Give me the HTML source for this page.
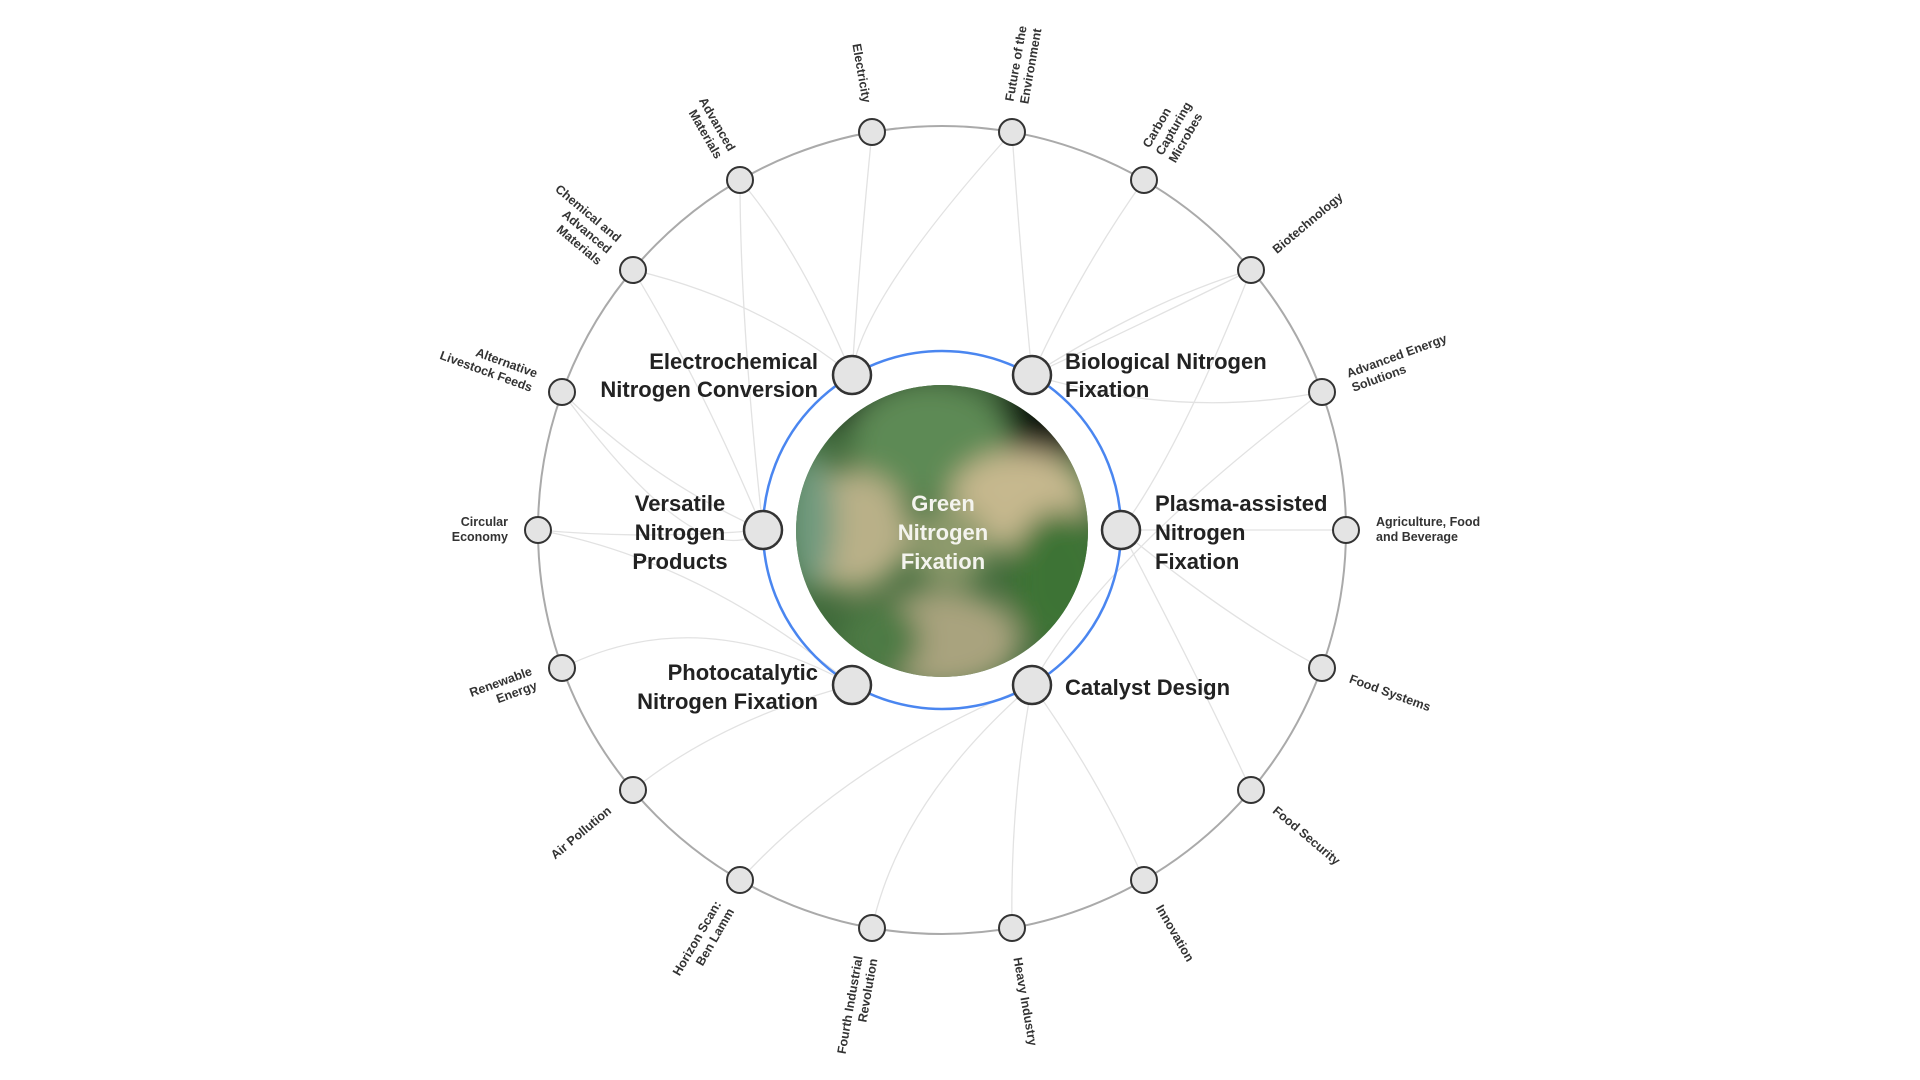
<!DOCTYPE html>
<html><head><meta charset="utf-8"><style>
html,body{margin:0;padding:0;background:#fff;}
svg{display:block;}
.ol{font-family:"Liberation Sans",sans-serif;font-size:12.5px;font-weight:bold;fill:#333;}
.il{font-family:"Liberation Sans",sans-serif;font-size:22px;font-weight:bold;fill:#222;}
.ct{font-family:"Liberation Sans",sans-serif;font-size:22px;font-weight:bold;fill:#f4f4ee;}
</style></head><body>
<svg width="1920" height="1080" viewBox="0 0 1920 1080" xmlns="http://www.w3.org/2000/svg">
<defs>
<clipPath id="cc"><circle cx="942" cy="531" r="146"/></clipPath>
<filter id="bl" x="-50%" y="-50%" width="200%" height="200%"><feGaussianBlur stdDeviation="14"/></filter>
<filter id="bl2"><feGaussianBlur stdDeviation="5"/></filter>
</defs>
<!-- connectors -->
<g fill="none" stroke="#e2e2e2" stroke-width="1.3">
<path d="M852,375 Q800,250 740,180"/>
<path d="M852,375 Q860,250 872,132"/>
<path d="M852,375 Q760,300 633,270"/>
<path d="M1032,375 Q1020,250 1012,132"/>
<path d="M1032,375 Q1080,270 1144,180"/>
<path d="M1032,375 Q1150,320 1251,270"/>
<path d="M1032,375 Q1180,420 1322,392"/>
<path d="M1032,375 Q1150,300 1251,270"/>
<path d="M1121,530 Q1240,530 1346,530"/>
<path d="M1121,530 Q1180,450 1251,270"/>
<path d="M1121,530 Q1230,620 1322,668"/>
<path d="M1121,530 Q1200,680 1251,790"/>
<path d="M1032,685 Q1100,780 1144,880"/>
<path d="M1032,685 Q1010,800 1012,928"/>
<path d="M1032,685 Q900,800 872,928"/>
<path d="M1032,685 Q850,760 740,880"/>
<path d="M1032,685 Q1100,560 1322,392"/>
<path d="M852,685 Q720,720 633,790"/>
<path d="M852,685 Q700,600 562,668"/>
<path d="M763,530 Q650,480 562,392"/>
<path d="M763,530 Q650,540 538,530"/>
<path d="M763,530 Q700,380 633,270"/>
<path d="M763,530 Q740,320 740,180"/>
<path d="M763,530 Q700,580 562,392"/>
<path d="M852,685 Q700,560 538,530"/>
<path d="M852,375 Q860,300 1012,132"/>
</g>
<!-- outer ring -->
<circle cx="942" cy="530" r="404" fill="none" stroke="#aaa" stroke-width="2"/>
<!-- blue ring -->
<circle cx="942" cy="530" r="179" fill="none" stroke="#4a86f0" stroke-width="2.5"/>
<!-- center image -->
<g clip-path="url(#cc)">
<rect x="790" y="380" width="310" height="310" fill="#3f6a3a"/>
<g filter="url(#bl)">
<ellipse cx="900" cy="400" rx="90" ry="40" fill="#1d2a1c"/>
<ellipse cx="1040" cy="420" rx="60" ry="40" fill="#0f150f"/>
<ellipse cx="930" cy="440" rx="80" ry="60" fill="#5d8a55"/>
<ellipse cx="850" cy="530" rx="60" ry="60" fill="#b9b088"/>
<ellipse cx="1020" cy="500" rx="70" ry="50" fill="#c6b88e"/>
<ellipse cx="1060" cy="580" rx="50" ry="70" fill="#3e7336"/>
<ellipse cx="940" cy="640" rx="80" ry="50" fill="#a9a37e"/>
<ellipse cx="880" cy="640" rx="40" ry="40" fill="#4d7a44"/>
<ellipse cx="810" cy="520" rx="25" ry="70" fill="#6f9a7e"/>
<ellipse cx="950" cy="545" rx="40" ry="40" fill="#8d9a6c"/>
</g>
</g>
<text class="ct" text-anchor="middle" x="943" y="511">Green</text>
<text class="ct" text-anchor="middle" x="943" y="540">Nitrogen</text>
<text class="ct" text-anchor="middle" x="943" y="569">Fixation</text>
<!-- inner nodes -->
<g fill="#e4e4e4" stroke="#333" stroke-width="2.5">
<circle cx="852" cy="375" r="19"/>
<circle cx="1032" cy="375" r="19"/>
<circle cx="1121" cy="530" r="19"/>
<circle cx="1032" cy="685" r="19"/>
<circle cx="852" cy="685" r="19"/>
<circle cx="763" cy="530" r="19"/>
</g>
<!-- inner labels -->
<text class="il" text-anchor="end" x="818" y="369">Electrochemical</text>
<text class="il" text-anchor="end" x="818" y="397">Nitrogen Conversion</text>
<text class="il" x="1065" y="369">Biological Nitrogen</text>
<text class="il" x="1065" y="397">Fixation</text>
<text class="il" text-anchor="middle" x="680" y="511">Versatile</text>
<text class="il" text-anchor="middle" x="680" y="540">Nitrogen</text>
<text class="il" text-anchor="middle" x="680" y="569">Products</text>
<text class="il" x="1155" y="511">Plasma-assisted</text>
<text class="il" x="1155" y="540">Nitrogen</text>
<text class="il" x="1155" y="569">Fixation</text>
<text class="il" text-anchor="end" x="818" y="680">Photocatalytic</text>
<text class="il" text-anchor="end" x="818" y="709">Nitrogen Fixation</text>
<text class="il" x="1065" y="695">Catalyst Design</text>
<!-- outer nodes -->
<g fill="#e4e4e4" stroke="#333" stroke-width="2">
<circle cx="1012" cy="132" r="13"/><circle cx="1144" cy="180" r="13"/><circle cx="1251" cy="270" r="13"/>
<circle cx="1322" cy="392" r="13"/><circle cx="1346" cy="530" r="13"/><circle cx="1322" cy="668" r="13"/>
<circle cx="1251" cy="790" r="13"/><circle cx="1144" cy="880" r="13"/><circle cx="1012" cy="928" r="13"/>
<circle cx="872" cy="928" r="13"/><circle cx="740" cy="880" r="13"/><circle cx="633" cy="790" r="13"/>
<circle cx="562" cy="668" r="13"/><circle cx="538" cy="530" r="13"/><circle cx="562" cy="392" r="13"/>
<circle cx="633" cy="270" r="13"/><circle cx="740" cy="180" r="13"/><circle cx="872" cy="132" r="13"/>
</g>
<!-- outer labels -->
<g transform="translate(942,530)">
<g transform="rotate(-80)"><text class="ol" x="434" y="-4">Future of the<tspan x="434" dy="15">Environment</tspan></text></g>
<g transform="rotate(-60)"><text class="ol" x="434" y="-11">Carbon<tspan x="434" dy="15">Capturing</tspan><tspan x="434" dy="15">Microbes</tspan></text></g>
<g transform="rotate(-40)"><text class="ol" x="434" y="4">Biotechnology</text></g>
<g transform="rotate(-20)"><text class="ol" x="434" y="-4">Advanced Energy<tspan x="434" dy="15">Solutions</tspan></text></g>
<g><text class="ol" x="434" y="-4">Agriculture, Food<tspan x="434" dy="15">and Beverage</tspan></text></g>
<g transform="rotate(20)"><text class="ol" x="434" y="4">Food Systems</text></g>
<g transform="rotate(40)"><text class="ol" x="434" y="4">Food Security</text></g>
<g transform="rotate(60)"><text class="ol" x="434" y="4">Innovation</text></g>
<g transform="rotate(80)"><text class="ol" x="434" y="4">Heavy Industry</text></g>
<g transform="rotate(-80)"><text class="ol" text-anchor="end" x="-434" y="-4">Fourth Industrial<tspan x="-434" dy="15">Revolution</tspan></text></g>
<g transform="rotate(-60)"><text class="ol" text-anchor="end" x="-434" y="-4">Horizon Scan:<tspan x="-434" dy="15">Ben Lamm</tspan></text></g>
<g transform="rotate(-40)"><text class="ol" text-anchor="end" x="-434" y="4">Air Pollution</text></g>
<g transform="rotate(-20)"><text class="ol" text-anchor="end" x="-434" y="-4">Renewable<tspan x="-434" dy="15">Energy</tspan></text></g>
<g><text class="ol" text-anchor="end" x="-434" y="-4">Circular<tspan x="-434" dy="15">Economy</tspan></text></g>
<g transform="rotate(20)"><text class="ol" text-anchor="end" x="-434" y="-4">Alternative<tspan x="-434" dy="15">Livestock Feeds</tspan></text></g>
<g transform="rotate(40)"><text class="ol" text-anchor="end" x="-434" y="-11">Chemical and<tspan x="-434" dy="15">Advanced</tspan><tspan x="-434" dy="15">Materials</tspan></text></g>
<g transform="rotate(60)"><text class="ol" text-anchor="end" x="-434" y="-4">Advanced<tspan x="-434" dy="15">Materials</tspan></text></g>
<g transform="rotate(80)"><text class="ol" text-anchor="end" x="-434" y="4">Electricity</text></g>
</g>
</svg>
</body></html>
